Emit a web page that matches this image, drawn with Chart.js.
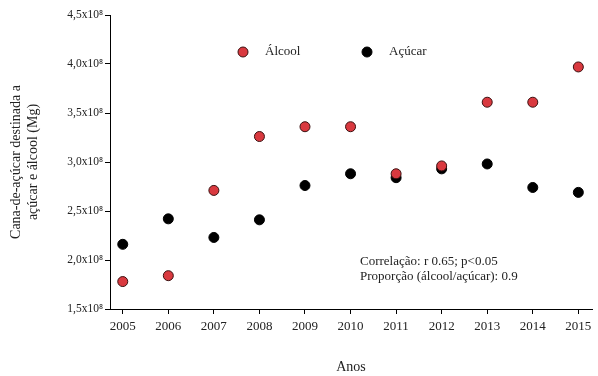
<!DOCTYPE html>
<html>
<head>
<meta charset="utf-8">
<script src="https://cdn.jsdelivr.net/npm/chart.js@4"></script>
<style>
  html, body { margin: 0; padding: 0; background: #fff; }
  #wrap { width: 598px; height: 376px; position: relative; }
</style>
</head>
<body>
<div id="wrap"><canvas id="chart"></canvas></div>
<script>
'use strict';

// values in units of 10^8 Mg
const years = [2005, 2006, 2007, 2008, 2009, 2010, 2011, 2012, 2013, 2014, 2015];
const alcool = [1.78, 1.84, 2.71, 3.26, 3.36, 3.36, 2.88, 2.96, 3.61, 3.61, 3.97];
const acucar = [2.16, 2.42, 2.23, 2.41, 2.76, 2.88, 2.84, 2.93, 2.98, 2.74, 2.69];
const yTicks = [1.5, 2.0, 2.5, 3.0, 3.5, 4.0, 4.5];
const notes = ['Correlação: r 0.65; p<0.05', 'Proporção (álcool/açúcar): 0.9'];

const SERIF = '"Liberation Serif", "Times New Roman", serif';
const INK = '#222';

const toPoints = (arr) => years.map((y, i) => ({ x: y, y: arr[i] }));

// legend + note text drawn inside the plot area
const overlay = {
  id: 'overlay',
  afterDraw(chart) {
    const ctx = chart.ctx;
    ctx.save();
    ctx.textBaseline = 'middle';
    ctx.textAlign = 'left';
    const legendPos = [{ x: 243, tx: 265 }, { x: 367, tx: 389 }];
    chart.data.datasets.forEach((ds, i) => {
      const p = legendPos[i];
      ctx.beginPath();
      ctx.arc(p.x, 52, ds.pointRadius, 0, Math.PI * 2);
      ctx.fillStyle = ds.backgroundColor;
      ctx.fill();
      ctx.lineWidth = 1;
      ctx.strokeStyle = ds.borderColor;
      ctx.stroke();
      ctx.fillStyle = INK;
      ctx.font = '13px ' + SERIF;
      ctx.fillText(ds.label, p.tx, 52);
    });
    ctx.font = '13px ' + SERIF;
    ctx.fillStyle = INK;
    notes.forEach((t, i) => ctx.fillText(t, 360, 262 + i * 15));
    ctx.restore();
  }
};

new Chart(document.getElementById('chart'), {
  type: 'scatter',
  data: {
    datasets: [
      {
        label: 'Álcool',
        data: toPoints(alcool),
        backgroundColor: '#d9393f',
        borderColor: '#3a1010',
        borderWidth: 1,
        pointRadius: 5,
        pointHoverRadius: 5,
      },
      {
        label: 'Açúcar',
        data: toPoints(acucar),
        backgroundColor: '#000',
        borderColor: '#000',
        borderWidth: 1,
        pointRadius: 5,
        pointHoverRadius: 5,
      },
    ],
  },
  options: {
    responsive: true,
    maintainAspectRatio: false,
    animation: false,
    layout: { padding: { top: 15, right: 1, left: 0, bottom: 0 } },
    plugins: {
      legend: { display: false },
      tooltip: { enabled: false },
    },
    scales: {
      x: {
        type: 'linear',
        min: 2004.72,
        max: 2015.3,
        afterBuildTicks: (scale) => { scale.ticks = years.map(v => ({ value: v })); },
        afterFit: (scale) => { scale.height = 67; scale.paddingLeft = 0; scale.paddingRight = 0; },
        grid: { drawOnChartArea: false, drawTicks: true, tickLength: 5, color: '#000' },
        border: { color: '#000', width: 1 },
        ticks: {
          color: INK,
          font: { family: SERIF, size: 13 },
          padding: 5,
          maxRotation: 0,
          callback: (v) => String(v),
        },
        title: {
          display: true,
          text: 'Anos',
          color: INK,
          font: { family: SERIF, size: 14 },
          padding: { top: 0, bottom: 0 },
        },
      },
      y: {
        min: 1.5,
        max: 4.5,
        afterBuildTicks: (scale) => { scale.ticks = yTicks.map(v => ({ value: v })); },
        afterFit: (scale) => { scale.width = 110; },
        grid: { drawOnChartArea: false, drawTicks: true, tickLength: 5, color: '#000' },
        border: { color: '#000', width: 1 },
        ticks: {
          color: INK,
          font: { family: SERIF, size: 11.5 },
          padding: 2,
          callback: (v) => v.toFixed(1).replace('.', ',') + 'x10⁸',
        },
        title: {
          display: true,
          text: ['Cana-de-açúcar destinada a', 'açúcar e álcool (Mg)'],
          color: INK,
          font: { family: SERIF, size: 14, lineHeight: 1.2 },
          padding: { top: 8, bottom: 0 },
        },
      },
    },
  },
  plugins: [overlay],
});
</script>
</body>
</html>
